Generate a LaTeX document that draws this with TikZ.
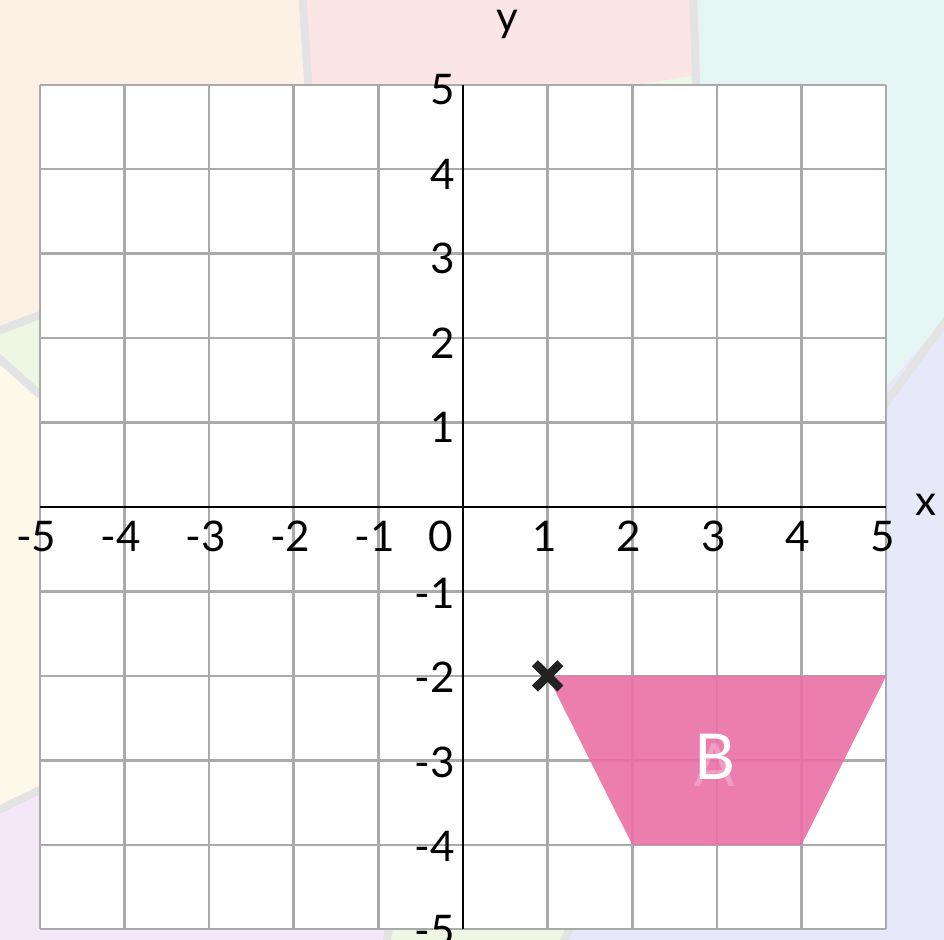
\documentclass[tikz,border=0pt]{standalone}
\usepackage{fontspec}
\setmainfont{Lato}
\definecolor{peach}{HTML}{FDF1E6}
\definecolor{pinkbg}{HTML}{FCE5E5}
\definecolor{cyanbg}{HTML}{E5F5F3}
\definecolor{lavbg}{HTML}{E7E9FA}
\definecolor{greenbg}{HTML}{EEF6E4}
\definecolor{creambg}{HTML}{FDF9E9}
\definecolor{purplebg}{HTML}{F4E8F8}
\definecolor{seam}{HTML}{E3E3E3}
\definecolor{gridgray}{HTML}{AAAAAA}
\definecolor{shapepink}{HTML}{EB70A6}
\definecolor{markblack}{HTML}{222222}
\begin{document}
\begin{tikzpicture}[x=0.01cm,y=-0.01cm,
  seamline/.style={draw=seam,line width=0.08cm,line join=round},
  gridline/.style={draw=gridgray,line width=0.025cm},
  axisline/.style={draw=black,line width=0.022cm},
  lab/.style={font=\fontsize{12}{13}\selectfont,inner sep=0pt,text=black}]
\useasboundingbox (0,0) rectangle (944,940);
% background mosaic
\fill[peach] (0,0) -- (302,0) -- (312,140) -- (40,315) -- (0,330) -- cycle;
\fill[pinkbg] (302,0) -- (693,0) -- (698,75) -- (312,140) -- cycle;
\fill[greenbg] (698,75) -- (312,140) -- (600,300) -- cycle;
\fill[cyanbg] (693,0) -- (944,0) -- (944,320) -- (700,600) -- (698,75) -- cycle;
\fill[lavbg] (944,320) -- (944,940) -- (560,940) -- (600,860) -- (700,600) -- cycle;
\fill[greenbg] (0,330) -- (40,315) -- (120,350) -- (40,395) -- (0,357) -- cycle;
\fill[creambg] (0,357) -- (40,395) -- (200,600) -- (40,790) -- (0,810) -- cycle;
\fill[purplebg] (0,810) -- (40,790) -- (400,870) -- (385,940) -- (0,940) -- cycle;
\fill[greenbg] (385,940) -- (400,870) -- (600,860) -- (560,940) -- cycle;
\draw[seamline] (302,-10) -- (312,140);
\draw[seamline] (693,-10) -- (698,140);
\draw[seamline] (954,310) -- (800,520);
\draw[seamline] (-10,334) -- (40,315);
\draw[seamline] (-10,350) -- (40,395);
\draw[seamline] (-10,814) -- (40,790);
\draw[seamline] (385,950) -- (400,870);
\draw[seamline] (560,950) -- (600,860);
\begin{scope}[shift={(463,507)},x=0.846cm,y=0.844cm]
  \fill[white] (-5,-5) rectangle (5,5);
  \foreach \i in {-5,...,5} {
    \draw[gridline] (\i,-5) -- (\i,5);
    \draw[gridline] (-5,\i) -- (5,\i);
  }
  \draw[axisline] (-5,0) -- (5,0);
  \draw[axisline] (0,-5) -- (0,5);
  % shape B
  \fill[shapepink,opacity=0.9] (1,-2) -- (5,-2) -- (4,-4) -- (2,-4) -- cycle;
  \node[lab,text=white,opacity=0.25,font=\fontsize{17}{18}\selectfont] (lblA) at (2.97,-3.06) {A};
  \node[lab,text=white,font=\fontsize{18}{19}\selectfont] (lblB) at (2.98,-2.96) {B};
  % cross mark
  \coordinate (P) at (1,-2);
  \draw[markblack,line width=0.085cm] ([shift={(-0.15,-0.15)}]P) -- ([shift={(0.15,0.15)}]P);
  \draw[markblack,line width=0.085cm] ([shift={(-0.15,0.15)}]P) -- ([shift={(0.15,-0.15)}]P);
  % x labels
  \foreach \i in {-5,-4,-3,-2,-1,1,2,3,4,5} {
    \node[lab] (xl\i) at (\i-0.04,-0.345) {\i};
  }
  \node[lab] (xl0) at (-0.26,-0.345) {0};
  % y labels
  \foreach \i in {1,...,5} {
    \node[lab,anchor=east] (yl\i) at (-0.09,\i-0.06) {\i};
  }
  \foreach \i in {-1,-2,-3,-4,-5} {
    \node[lab,anchor=east] (yl\i) at (-0.09,\i-0.02) {\i};
  }
  \node[lab] (xname) at (5.47,0.02) {x};
  \node[lab] (yname) at (0.52,5.72) {y};
\end{scope}
\end{tikzpicture}
\end{document}
